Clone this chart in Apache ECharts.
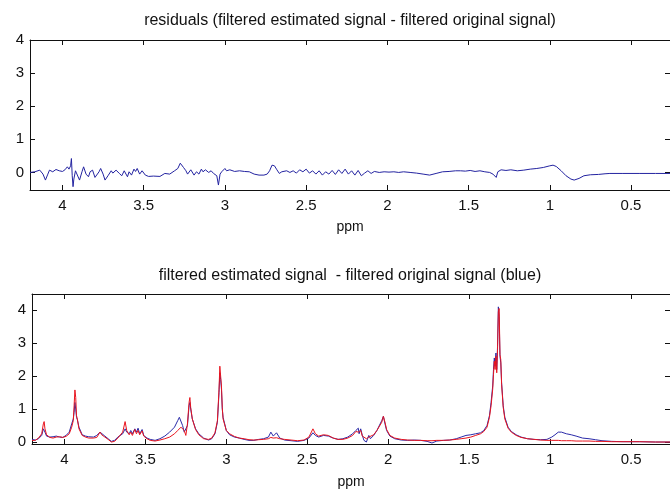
<!DOCTYPE html>
<html>
<head>
<meta charset="utf-8">
<script src="https://cdn.jsdelivr.net/npm/echarts@6/dist/echarts.min.js"></script>
<style>
  html, body { margin: 0; padding: 0; background: #fff; }
  #chart { width: 670px; height: 490px; }
</style>
</head>
<body>
<div id="chart"></div>
<script>
// x ticks (ppm, axis runs high -> low) and y ticks
const ppmTicks = [4, 3.5, 3, 2.5, 2, 1.5, 1, 0.5]
const yTicks = [0, 1, 2, 3, 4]

// top panel: residuals
const residPpm = [
  4.20, 4.17, 4.14, 4.12, 4.105, 4.09, 4.08, 4.06, 4.04, 4.02, 4.00, 3.985, 3.97, 3.96, 3.95, 3.945,
  3.94, 3.935, 3.93, 3.92, 3.91, 3.895, 3.88, 3.87, 3.855, 3.84, 3.83, 3.815, 3.80, 3.79, 3.775, 3.765,
  3.75, 3.738, 3.72, 3.70, 3.69, 3.67, 3.65, 3.635, 3.62, 3.60, 3.59, 3.575, 3.56, 3.55, 3.54, 3.525,
  3.51, 3.49, 3.47, 3.44, 3.40, 3.37, 3.34, 3.31, 3.29, 3.275, 3.265, 3.255, 3.24, 3.23, 3.21, 3.19,
  3.175, 3.16, 3.145, 3.135, 3.12, 3.10, 3.085, 3.07, 3.05, 3.04, 3.03, 3.02, 3.00, 2.99, 2.97, 2.94,
  2.91, 2.88, 2.85, 2.82, 2.79, 2.76, 2.74, 2.725, 2.71, 2.695, 2.68, 2.665, 2.65, 2.62, 2.60, 2.58,
  2.56, 2.54, 2.52, 2.50, 2.48, 2.46, 2.44, 2.42, 2.40, 2.38, 2.36, 2.34, 2.32, 2.30, 2.28, 2.26,
  2.24, 2.22, 2.20, 2.18, 2.16, 2.14, 2.12, 2.10, 2.08, 2.05, 2.02, 1.99, 1.96, 1.93, 1.90, 1.86,
  1.82, 1.78, 1.74, 1.70, 1.66, 1.62, 1.58, 1.55, 1.52, 1.49, 1.46, 1.43, 1.40, 1.37, 1.35, 1.33,
  1.32, 1.30, 1.27, 1.24, 1.20, 1.16, 1.12, 1.08, 1.04, 1.00, 0.98, 0.96, 0.93, 0.90, 0.87, 0.85,
  0.82, 0.79, 0.75, 0.70, 0.66, 0.63, 0.55, 0.45, 0.35, 0.26
]
const residVal = [
  0.00, 0.02, 0.07, -0.05, -0.23, -0.05, 0.07, 0.02, 0.09, 0.05, 0.03, 0.08, 0.17, 0.10, 0.20, 0.42,
  -0.10, -0.43, -0.20, 0.05, 0.08, -0.23, 0.02, 0.17, -0.05, -0.13, 0.02, 0.07, -0.15, -0.18, 0.02, 0.12,
  -0.05, -0.23, -0.10, 0.05, -0.02, 0.07, -0.03, -0.10, 0.05, -0.13, 0.02, -0.08, 0.10, 0.03, 0.12, -0.05,
  0.05, -0.08, -0.12, -0.11, -0.12, -0.03, -0.05, 0.05, 0.12, 0.28, 0.32, 0.15, 0.05, -0.05, 0.08, -0.08,
  0.02, -0.05, 0.10, 0.02, 0.08, 0.00, 0.05, -0.03, -0.10, -0.38, -0.05, 0.02, 0.12, 0.05, 0.08, 0.03,
  0.05, 0.03, 0.02, -0.05, -0.08, -0.08, -0.05, 0.05, 0.22, 0.20, 0.08, -0.03, 0.02, 0.05, 0.00, 0.05,
  -0.02, 0.08, 0.02, 0.10, -0.02, 0.05, -0.05, 0.05, -0.08, 0.02, -0.05, 0.06, -0.06, 0.08, -0.03, 0.10,
  -0.05, 0.05, -0.08, 0.06, -0.10, -0.02, 0.05, -0.03, 0.03, 0.00, 0.02, 0.01, 0.02, 0.00, 0.02, 0.00,
  -0.02, -0.05, -0.08, -0.03, 0.02, 0.03, 0.05, 0.05, 0.04, 0.06, 0.03, 0.05, 0.02, 0.00, -0.05, -0.15,
  0.02, 0.08, 0.06, 0.08, 0.05, 0.07, 0.10, 0.12, 0.15, 0.20, 0.22, 0.18, 0.05, -0.10, -0.20, -0.23,
  -0.18, -0.10, -0.07, -0.06, -0.04, -0.03, -0.03, -0.03, -0.03, -0.03
]

// bottom panel: filtered original (blue) and filtered estimated (red)
const sigPpm = [
  4.20, 4.18, 4.16, 4.14, 4.13, 4.125, 4.12, 4.11, 4.09, 4.07, 4.05, 4.03, 4.01, 3.99, 3.97, 3.955,
  3.945, 3.94, 3.935, 3.93, 3.925, 3.92, 3.91, 3.89, 3.87, 3.85, 3.82, 3.80, 3.78, 3.77, 3.75, 3.73,
  3.71, 3.69, 3.67, 3.64, 3.625, 3.615, 3.60, 3.59, 3.58, 3.565, 3.555, 3.545, 3.535, 3.52, 3.51, 3.49,
  3.47, 3.44, 3.41, 3.38, 3.35, 3.32, 3.30, 3.29, 3.28, 3.27, 3.26, 3.25, 3.24, 3.23, 3.225, 3.22,
  3.21, 3.19, 3.17, 3.14, 3.11, 3.09, 3.07, 3.055, 3.045, 3.04, 3.035, 3.03, 3.025, 3.02, 3.00, 2.98,
  2.95, 2.92, 2.89, 2.86, 2.83, 2.80, 2.77, 2.74, 2.725, 2.71, 2.69, 2.67, 2.64, 2.60, 2.56, 2.52,
  2.49, 2.465, 2.45, 2.43, 2.40, 2.37, 2.34, 2.31, 2.28, 2.25, 2.22, 2.20, 2.185, 2.18, 2.17, 2.16,
  2.15, 2.135, 2.12, 2.11, 2.09, 2.07, 2.04, 2.03, 2.02, 2.01, 1.99, 1.96, 1.92, 1.88, 1.84, 1.80,
  1.76, 1.73, 1.70, 1.66, 1.62, 1.58, 1.55, 1.52, 1.49, 1.46, 1.43, 1.41, 1.39, 1.375, 1.365, 1.355,
  1.35, 1.345, 1.34, 1.335, 1.33, 1.325, 1.32, 1.315, 1.31, 1.305, 1.30, 1.29, 1.28, 1.26, 1.24, 1.21,
  1.18, 1.14, 1.10, 1.06, 1.02, 0.99, 0.97, 0.95, 0.93, 0.90, 0.87, 0.84, 0.80, 0.76, 0.72, 0.68,
  0.62, 0.55, 0.45, 0.35, 0.26
]
const origVal = [
  0.08, 0.06, 0.10, 0.20, 0.40, 0.35, 0.30, 0.18, 0.15, 0.16, 0.18, 0.15, 0.14, 0.20, 0.30, 0.55,
  0.70, 0.90, 1.20, 1.00, 0.75, 0.68, 0.45, 0.22, 0.18, 0.16, 0.15, 0.20, 0.30, 0.25, 0.18, 0.10,
  0.02, 0.05, 0.15, 0.25, 0.40, 0.30, 0.25, 0.35, 0.25, 0.40, 0.30, 0.42, 0.25, 0.38, 0.20, 0.12,
  0.08, 0.05, 0.10, 0.18, 0.30, 0.45, 0.65, 0.75, 0.70, 0.50, 0.30, 0.25, 0.50, 1.10, 1.20, 1.00,
  0.70, 0.40, 0.25, 0.12, 0.06, 0.10, 0.25, 0.60, 1.50, 2.10, 1.90, 1.60, 1.00, 0.75, 0.35, 0.22,
  0.15, 0.12, 0.08, 0.05, 0.05, 0.08, 0.10, 0.15, 0.30, 0.18, 0.28, 0.12, 0.06, 0.04, 0.02, 0.05,
  0.12, 0.28, 0.20, 0.15, 0.20, 0.18, 0.12, 0.08, 0.10, 0.15, 0.25, 0.35, 0.42, 0.25, 0.40, 0.20,
  0.05, 0.00, 0.20, 0.10, 0.20, 0.35, 0.65, 0.78, 0.55, 0.35, 0.18, 0.10, 0.06, 0.05, 0.06, 0.05,
  0.02, -0.03, 0.03, 0.05, 0.06, 0.10, 0.15, 0.20, 0.22, 0.25, 0.28, 0.35, 0.50, 0.80, 1.20, 1.70,
  2.20, 2.55, 2.30, 2.70, 2.20, 2.90, 4.10, 3.80, 2.60, 2.40, 1.80, 1.10, 0.75, 0.45, 0.32, 0.22,
  0.15, 0.10, 0.08, 0.07, 0.08, 0.15, 0.22, 0.30, 0.30, 0.25, 0.22, 0.18, 0.12, 0.10, 0.07, 0.04,
  0.02, 0.01, 0.01, 0.00, 0.00
]
const estVal = [
  0.05, 0.05, 0.12, 0.25, 0.55, 0.62, 0.40, 0.22, 0.14, 0.12, 0.15, 0.16, 0.14, 0.17, 0.25, 0.45,
  0.65, 1.10, 1.58, 1.35, 0.80, 0.70, 0.40, 0.20, 0.15, 0.12, 0.12, 0.14, 0.30, 0.22, 0.15, 0.08,
  0.00, 0.02, 0.12, 0.30, 0.62, 0.35, 0.22, 0.30, 0.20, 0.38, 0.25, 0.35, 0.22, 0.34, 0.18, 0.10,
  0.05, 0.03, 0.06, 0.10, 0.15, 0.25, 0.35, 0.40, 0.45, 0.48, 0.35, 0.20, 0.55, 1.20, 1.35, 1.05,
  0.70, 0.38, 0.22, 0.10, 0.08, 0.12, 0.28, 0.65, 1.60, 2.30, 2.00, 1.70, 1.05, 0.70, 0.35, 0.25,
  0.17, 0.12, 0.10, 0.07, 0.06, 0.07, 0.08, 0.10, 0.14, 0.12, 0.13, 0.10, 0.08, 0.06, 0.04, 0.06,
  0.15, 0.40, 0.25, 0.18, 0.22, 0.20, 0.12, 0.08, 0.08, 0.12, 0.20, 0.32, 0.30, 0.28, 0.35, 0.18,
  0.12, 0.10, 0.15, 0.12, 0.22, 0.35, 0.60, 0.78, 0.60, 0.38, 0.20, 0.12, 0.08, 0.06, 0.05, 0.05,
  0.04, 0.04, 0.05, 0.05, 0.06, 0.08, 0.10, 0.12, 0.15, 0.20, 0.25, 0.32, 0.45, 0.75, 1.10, 1.60,
  2.05, 2.45, 2.20, 2.60, 2.10, 2.80, 3.95, 4.05, 2.65, 2.50, 1.75, 1.05, 0.70, 0.42, 0.30, 0.20,
  0.14, 0.10, 0.08, 0.06, 0.05, 0.05, 0.05, 0.05, 0.04, 0.04, 0.04, 0.03, 0.03, 0.03, 0.02, 0.02,
  0.01, 0.01, 0.01, 0.00, 0.00
]

const FONT = 'Liberation Sans, Arial, sans-serif'
const black = '#111'

function pairs(xs, ys) {
  return xs.map((x, i) => [x, ys[i]])
}

function xAxes(grid, nameGap) {
  const base = {
    gridIndex: grid,
    type: 'value',
    inverse: true,
    min: 0.26,
    max: 4.2,
    splitLine: { show: false },
    axisLine: { show: true, onZero: false, lineStyle: { color: black, width: 1 } },
    axisTick: { show: true, inside: true, length: 5, customValues: ppmTicks, lineStyle: { color: black } },
  }
  return [
    {
      ...base,
      position: 'bottom',
      name: 'ppm',
      nameLocation: 'middle',
      nameGap: nameGap,
      nameTextStyle: { color: black, fontSize: 14, fontFamily: FONT },
      axisLabel: { customValues: ppmTicks, color: black, fontSize: 15, fontFamily: FONT, margin: 8 },
    },
    { ...base, position: 'top', axisLabel: { show: false } },
  ]
}

function yAxes(grid, min, max) {
  const base = {
    gridIndex: grid,
    type: 'value',
    min: min,
    max: max,
    splitLine: { show: false },
    axisLine: { show: true, onZero: false, lineStyle: { color: black, width: 1 } },
    axisTick: { show: true, inside: true, length: 5, customValues: yTicks, lineStyle: { color: black } },
  }
  return [
    {
      ...base,
      position: 'left',
      axisLabel: { customValues: yTicks, color: black, fontSize: 15, fontFamily: FONT, margin: 6 },
    },
    { ...base, position: 'right', axisLabel: { show: false } },
  ]
}

const chart = echarts.init(document.getElementById('chart'))
chart.setOption({
  animation: false,
  backgroundColor: '#fff',
  grid: [
    { left: 30, top: 40, width: 642, height: 150 },
    { left: 32, top: 294, width: 640, height: 150 },
  ],
  xAxis: [...xAxes(0, 30), ...xAxes(1, 31)],
  yAxis: [...yAxes(0, -0.53, 4), ...yAxes(1, -0.06, 4.49)],
  graphic: [
    {
      type: 'text', x: 350, y: 21,
      style: {
        text: 'residuals (filtered estimated signal - filtered original signal)',
        fill: black, font: '16px ' + FONT, textAlign: 'center', textVerticalAlign: 'middle',
      },
    },
    {
      type: 'text', x: 350, y: 276,
      style: {
        text: 'filtered estimated signal  - filtered original signal (blue)',
        fill: black, font: '16px ' + FONT, textAlign: 'center', textVerticalAlign: 'middle',
      },
    },
  ],
  series: [
    {
      name: 'residuals',
      type: 'line',
      xAxisIndex: 0,
      yAxisIndex: 0,
      data: pairs(residPpm, residVal),
      showSymbol: false,
      lineStyle: { color: '#2323a0', width: 1 },
    },
    {
      name: 'filtered original signal',
      type: 'line',
      xAxisIndex: 2,
      yAxisIndex: 2,
      data: pairs(sigPpm, origVal),
      showSymbol: false,
      lineStyle: { color: '#2a2aa8', width: 1 },
    },
    {
      name: 'filtered estimated signal',
      type: 'line',
      xAxisIndex: 2,
      yAxisIndex: 2,
      data: pairs(sigPpm, estVal),
      showSymbol: false,
      lineStyle: { color: '#e8141e', width: 1 },
    },
  ],
})
</script>
</body>
</html>
